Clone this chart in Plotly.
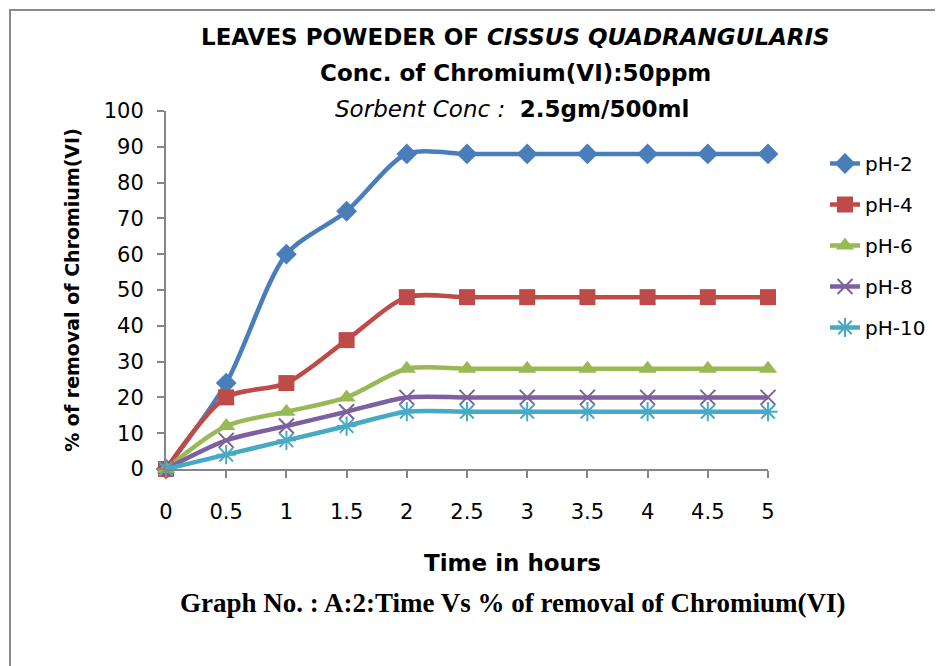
import plotly.graph_objects as go

time_hours = [0, 0.5, 1, 1.5, 2, 2.5, 3, 3.5, 4, 4.5, 5]
ph2 = [0, 24, 60, 72, 88, 88, 88, 88, 88, 88, 88]
ph4 = [0, 20, 24, 36, 48, 48, 48, 48, 48, 48, 48]
ph6 = [0, 12, 16, 20, 28, 28, 28, 28, 28, 28, 28]
ph8 = [0, 8, 12, 16, 20, 20, 20, 20, 20, 20, 20]
ph10 = [0, 4, 8, 12, 16, 16, 16, 16, 16, 16, 16]
series_names = ["pH-2", "pH-4", "pH-6", "pH-8", "pH-10"]
x_ticks = [0, 0.5, 1, 1.5, 2, 2.5, 3, 3.5, 4, 4.5, 5]
x_tick_labels = ["0", "0.5", "1", "1.5", "2", "2.5", "3", "3.5", "4", "4.5", "5"]
y_ticks = [0, 10, 20, 30, 40, 50, 60, 70, 80, 90, 100]

W, H = 943, 666
OFF = 8  # page body margin shifts the figure by 8px
L, R, T, B = 166 - OFF, 943 - (768 - OFF), 111 - OFF, 666 - (469 - OFF)

colors = ["#4A7EBB", "#BE4B48", "#98B954", "#7D60A0", "#46AAC5"]
symbols = ["diamond", "square", "triangle-up", "x-thin", "asterisk"]
sizes = [16, 16, 16, 15, 16]

fig = go.Figure()
for i, (name, ys) in enumerate(zip(series_names, [ph2, ph4, ph6, ph8, ph10])):
    thin = symbols[i] in ("x-thin", "asterisk")
    fig.add_trace(go.Scatter(
        x=time_hours, y=ys, name=name, mode="lines+markers",
        line=dict(color=colors[i], width=4.5, shape="spline", smoothing=0.8),
        marker=dict(symbol=symbols[i], size=sizes[i], color=colors[i],
                    line=dict(color=colors[i], width=2 if thin else 0)),
        cliponaxis=False, legendgroup=name,
    ))

font = "DejaVu Sans, sans-serif"
pw, ph = W - L - R, H - T - B
def px(x):
    return (x - OFF - L) / pw
def py(y):
    return (H - B - (y - OFF)) / ph

fig.update_layout(
    width=W, height=H,
    margin=dict(l=L, r=R, t=T, b=B),
    paper_bgcolor="white", plot_bgcolor="white",
    font=dict(family=font, size=21, color="black"),
    showlegend=True,
    legend=dict(x=px(825), y=py(144), xanchor="left", yanchor="top",
                font=dict(size=20), tracegroupgap=12, bgcolor="rgba(0,0,0,0)"),
    xaxis=dict(range=[0, 5], tickvals=x_ticks, ticktext=x_tick_labels,
               showgrid=False, zeroline=False, showline=True, linecolor="#868686",
               linewidth=2, ticks="outside", ticklen=7, tickcolor="#868686",
               tickwidth=2, ticklabelstandoff=16),
    yaxis=dict(range=[0, 100], tickvals=y_ticks,
               showgrid=False, zeroline=False, showline=True, linecolor="#868686",
               linewidth=2, ticks="outside", ticklen=7, tickcolor="#868686",
               tickwidth=2, ticklabelstandoff=9,
               title=dict(text="<b>% of removal of Chromium(VI)</b>", font=dict(size=19), standoff=19)),
)

annots = [
    ("<b>LEAVES POWEDER OF <i>CISSUS QUADRANGULARIS</i></b>", 515, 37, 23, font),
    ("<b>Conc. of Chromium(VI):50ppm</b>", 515, 73, 23, font),
    ("<i>Sorbent Conc : </i> <b>2.5gm/500ml</b>", 512, 109, 23, font),
    ("<b>Time in hours</b>", 512, 563, 23, font),
    ("<b>Graph No. : A:2:Time Vs % of removal of Chromium(VI)</b>", 512, 603, 27,
     "Liberation Serif, Times New Roman, serif"),
]
for text, x, y, size, fam in annots:
    fig.add_annotation(text=text, x=px(x), y=py(y), xref="paper", yref="paper",
                       showarrow=False, xanchor="center", yanchor="middle",
                       font=dict(size=size, family=fam, color="black"))

# outer frame (top and left edges)
fig.add_shape(type="line", xref="paper", yref="paper", x0=px(9), x1=px(951), y0=py(10), y1=py(10),
              line=dict(color="#8A8A8A", width=2))
fig.add_shape(type="line", xref="paper", yref="paper", x0=px(10), x1=px(10), y0=py(10), y1=py(674),
              line=dict(color="#8A8A8A", width=2))

fig.write_html("out.html")
